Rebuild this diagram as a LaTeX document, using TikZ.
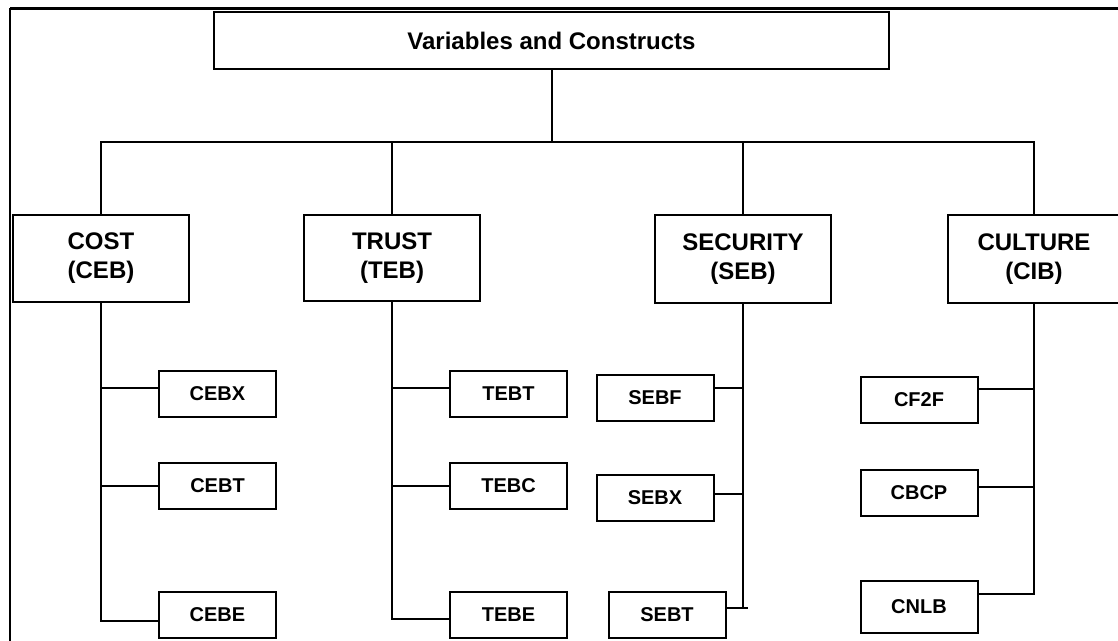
\documentclass[tikz,border=0pt]{standalone}
\usepackage{fontspec}
\setmainfont{Liberation Sans}
\usetikzlibrary{calc}
\begin{document}
\begin{tikzpicture}[x=1pt,y=-1pt,
  line width=2pt,
  catbox/.style={draw, line width=2pt, inner sep=0pt, align=center,
    font=\fontsize{24}{29}\selectfont\bfseries},
  subbox/.style={draw, line width=2pt, inner sep=0pt, minimum width=117pt,
    minimum height=46pt, font=\fontsize{20}{23}\selectfont\bfseries},
  link/.style={line width=2pt}]
\useasboundingbox (0,0) rectangle (1118,640);
\clip (0,0) rectangle (1118,640);

% outer frame
\draw[line width=3pt] (1130,8) -- (10,8);
\draw[line width=2pt] (10,8) -- (10,660);

% heading
\node[draw, line width=2pt, minimum width=675pt, minimum height=57pt, inner sep=0pt,
  font=\fontsize{24}{28}\selectfont\bfseries] (title) at (551.5,40.5) {Variables and Constructs};

% constructs
\node[catbox, minimum width=176pt, minimum height=87pt] (cost) at (101,258.5) {COST\\(CEB)};
\node[catbox, minimum width=176pt, minimum height=86pt] (trust) at (392,258) {TRUST\\(TEB)};
\node[catbox, minimum width=176pt, minimum height=88pt] (security) at (743,259) {SECURITY\\(SEB)};
\node[catbox, minimum width=172pt, minimum height=88pt] (culture) at (1034,259) {CULTURE\\(CIB)};

% variables
\node[subbox] (cebx) at (217.5,394) {CEBX};
\node[subbox] (cebt) at (217.5,486) {CEBT};
\node[subbox] (cebe) at (217.5,615) {CEBE};
\node[subbox] (tebt) at (508.5,394) {TEBT};
\node[subbox] (tebc) at (508.5,486) {TEBC};
\node[subbox] (tebe) at (508.5,615) {TEBE};
\node[subbox] (sebf) at (655,398) {SEBF};
\node[subbox] (sebx) at (655,498) {SEBX};
\node[subbox] (sebt) at (667,615) {SEBT};
\node[subbox] (cf2f) at (919,400) {CF2F};
\node[subbox] (cbcp) at (919,493) {CBCP};
\node[subbox, minimum height=52pt] (cnlb) at (919,606.5) {CNLB};

% points where the branch lines meet the boxes
\coordinate (cebxin) at ([yshift=6pt]cebx.west);
\coordinate (cebein) at ([yshift=-6pt]cebe.west);
\coordinate (tebtin) at ([yshift=6pt]tebt.west);
\coordinate (tebein) at ([yshift=-4pt]tebe.west);
\coordinate (sebfin) at ([yshift=10pt]sebf.east);
\coordinate (sebxin) at ([yshift=4pt]sebx.east);
\coordinate (sebtin) at ([yshift=7pt]sebt.east);
\coordinate (cf2fin) at ([yshift=11pt]cf2f.east);
\coordinate (cbcpin) at ([yshift=6pt]cbcp.east);
\coordinate (cnlbin) at ([yshift=13pt]cnlb.east);

% bus from the heading to the constructs
\coordinate (bus) at (0,142);
\draw[link] (title.south) -- (title.south |- bus);
\draw[link] (cost.north) -- (cost.north |- bus) -- (culture.north |- bus) -- (culture.north);
\draw[link] (trust.north) -- (trust.north |- bus);
\draw[link] (security.north) -- (security.north |- bus);

% cost branch
\draw[link] (cost.south) |- (cebein);
\draw[link] (cost.south |- cebxin) -- (cebxin);
\draw[link] (cost.south |- cebt.west) -- (cebt.west);

% trust branch
\draw[link] (trust.south) |- (tebein);
\draw[link] (trust.south |- tebtin) -- (tebtin);
\draw[link] (trust.south |- tebc.west) -- (tebc.west);

% security branch
\draw[link] (security.south) |- (sebtin);
\draw[link] (sebtin -| security.south) -- ($(sebtin -| security.south)+(5,0)$);
\draw[link] (security.south |- sebfin) -- (sebfin);
\draw[link] (security.south |- sebxin) -- (sebxin);

% culture branch
\draw[link] (culture.south) |- (cnlbin);
\draw[link] (culture.south |- cf2fin) -- (cf2fin);
\draw[link] (culture.south |- cbcpin) -- (cbcpin);
\end{tikzpicture}
\end{document}
